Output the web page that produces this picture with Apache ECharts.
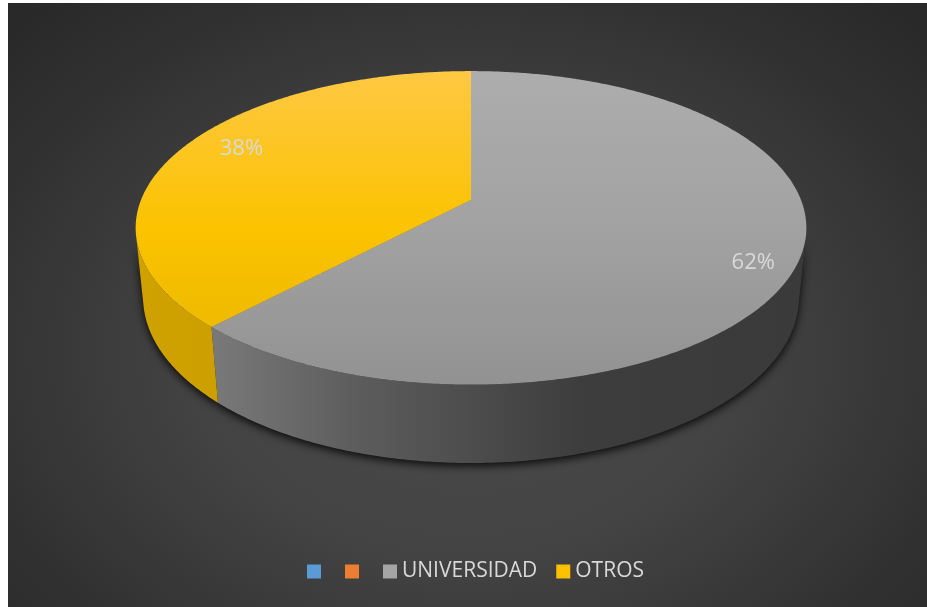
<!DOCTYPE html>
<html>
<head>
<meta charset="utf-8">
<script src="https://cdn.jsdelivr.net/npm/echarts@6/dist/echarts.min.js"></script>
<style>
  html, body { margin: 0; padding: 0; background: #ffffff; }
  #chart {
    position: absolute; left: 8px; top: 3px; width: 919px; height: 604px;
    background: radial-gradient(ellipse 75% 85% at 50% 58%, #4c4c4c 0%, #434343 40%, #303030 75%, #262626 100%);
  }
</style>
</head>
<body>
<div id="chart"></div>
<script>
// Categories and their shares (percent)
const categories = ['', '', 'UNIVERSIDAD', 'OTROS'];
const values = [0, 0, 62, 38];
const colors = ['#5B9BD5', '#ED7D31', '#A5A5A5', '#FFC000'];

// Shading for top faces (vertical) and walls (horizontal)
const topShades = [
  ['#6aa6dc', '#4f8cc4'],
  ['#f08a45', '#d96d25'],
  ['#adadad', '#a2a2a2', '#929292'],
  ['#ffc843', '#fbc300', '#e8b600']
];
const wallShades = [
  ['#4a80b2', '#3a6a96'],
  ['#c86828', '#a85520'],
  ['#888888', '#5c5c5c', '#3d3d3d', '#3a3a3a'],
  ['#d0a200', '#c29600', '#dcaa00']
];
// label nudges in px, per category
const labelNudge = [[0, 0], [0, 0], [13, 14], [12, -7]];

// perspective view of the disc
const view = {
  cx: 463, cy: 197,      // projected centre of the top face
  focal: 1650,
  radius: 1, dist: 5,
  sinTilt: 0.46,
  thickness: 0.24,
  labelRho: 0.83
};
view.cosTilt = Math.sqrt(1 - view.sinTilt * view.sinTilt);

function project(theta, rho, h) {
  const X = rho * view.radius * Math.sin(theta);
  const Z = rho * view.radius * Math.cos(theta);
  const depth = view.dist - h * view.sinTilt + Z * view.cosTilt;
  const yc = h * view.cosTilt + Z * view.sinTilt;
  return [view.cx + view.focal * X / depth, view.cy - view.focal * yc / depth];
}

function arc(a, b, rho, h) {
  const pts = [];
  const n = Math.max(2, Math.ceil(Math.abs(b - a) / (Math.PI / 360)));
  for (let i = 0; i <= n; i++) pts.push(project(a + (b - a) * i / n, rho, h));
  return pts;
}

function stops(list) {
  return list.map((c, i) => ({ offset: i / (list.length - 1), color: c }));
}

const total = values.reduce((s, v) => s + v, 0);
const startFrac = [];
values.reduce((acc, v, i) => { startFrac[i] = acc; return acc + v; }, 0);

// visible part of the outer wall (front-facing)
const wallFrom = Math.acos(-view.radius / (view.dist * view.cosTilt));
const wallTo = 2 * Math.PI - wallFrom;

// screen extents used by the gradients
const topY = project(0, 1, 0)[1], botY = project(Math.PI, 1, 0)[1];
const leftX = project(wallTo, 1, 0)[0], rightX = project(wallFrom, 1, 0)[0];

function sliceRenderer(idx) {
  return function (params, api) {
    const v = values[idx];
    if (!v) return null;
    const a = startFrac[idx] / total * 2 * Math.PI;
    const b = (startFrac[idx] + v) / total * 2 * Math.PI;
    const children = [];

    // outer wall
    const wa = Math.max(a, wallFrom), wb = Math.min(b, wallTo);
    if (wb > wa) {
      const upper = arc(wa, wb, 1, 0);
      const lower = arc(wb, wa, 1, -view.thickness);
      const wallPts = upper.concat(lower);
      children.push({
        type: 'polygon', z2: 0, silent: true,
        shape: { points: wallPts },
        style: { fill: '#151515', shadowBlur: 9, shadowOffsetY: 3, shadowColor: 'rgba(0,0,0,0.85)' }
      });
      children.push({
        type: 'polygon', z2: 1,
        shape: { points: wallPts },
        style: {
          fill: new echarts.graphic.LinearGradient(leftX, 0, rightX, 0, stops(wallShades[idx]), true)
        }
      });
    }

    // top face
    const topPts = [project(0, 0, 0)].concat(arc(a, b, 1, 0));
    children.push({
      type: 'polygon', z2: 2,
      shape: { points: topPts },
      style: {
        fill: new echarts.graphic.LinearGradient(0, topY, 0, botY, stops(topShades[idx]), true),
        stroke: 'rgba(255,255,255,0.06)', lineWidth: 0.6
      }
    });

    // percentage label
    const mid = (a + b) / 2;
    const lp = project(mid, view.labelRho, 0);
    children.push({
      type: 'text', z2: 3, silent: true,
      x: lp[0] + labelNudge[idx][0], y: lp[1] + labelNudge[idx][1],
      style: {
        text: Math.round(v / total * 100) + '%',
        fill: '#d9d9d9', font: '22px "Open Sans"',
        align: 'center', verticalAlign: 'middle'
      }
    });
    return { type: 'group', children: children };
  };
}

const seriesNames = categories.map((c, i) => c || '\u200b'.repeat(i + 1));

const chart = echarts.init(document.getElementById('chart'), null, { renderer: 'canvas' });
chart.setOption({
  animation: false,
  backgroundColor: 'transparent',
  legend: {
    data: seriesNames,
    left: 299, top: 558, padding: 0,
    icon: 'rect', itemWidth: 14, itemHeight: 14, itemGap: 19,
    selectedMode: false,
    textStyle: { color: '#d9d9d9', fontSize: 21, fontFamily: 'Open Sans', lineHeight: 20 }
  },
  series: categories.map((c, i) => ({
    type: 'custom',
    name: seriesNames[i],
    coordinateSystem: 'none',
    itemStyle: { color: colors[i] },
    data: [values[i]],
    renderItem: sliceRenderer(i)
  }))
});
</script>
</body>
</html>
